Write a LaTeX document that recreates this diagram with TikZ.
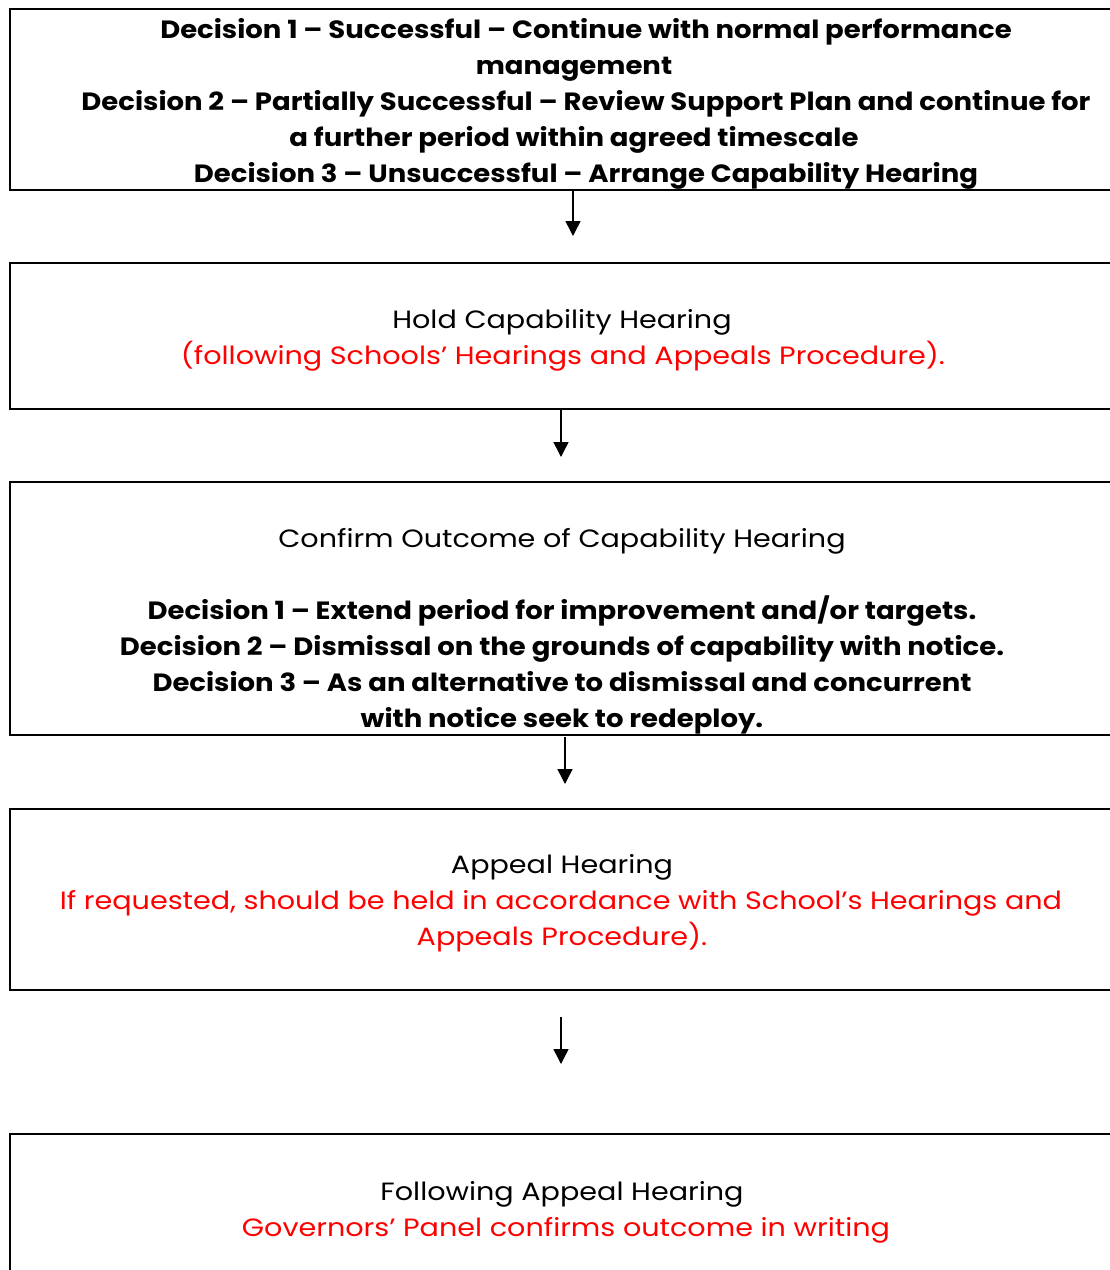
\documentclass[tikz,border=0pt]{standalone}
\usepackage{fontspec}
\setmainfont{Poppins}
\usetikzlibrary{arrows.meta}
\newfontfamily\regf{Poppins}[FakeStretch=1.145]
\newfontfamily\bldf{Poppins}[FakeStretch=1.10]
\begin{document}
\begin{tikzpicture}[x=1pt,y=-1pt,
  box/.style={draw, line width=2pt, rectangle, anchor=north west, inner sep=0pt, minimum width=1160pt},
  ln/.style={anchor=base, inner sep=0pt, font=\regf\fontsize{25}{30}\selectfont},
  bl/.style={anchor=base, inner sep=0pt, font=\bldf\fontsize{25}{30}\selectfont\bfseries},
  rd/.style={ln, text=red},
  arr/.style={-{Triangle[length=15pt,width=15pt]}, line width=1.5pt}]
\useasboundingbox (0,0) rectangle (1110,1270);
% boxes
\node[box, minimum height=181pt] (b1) at (9,8) {};
\node[box, minimum height=146pt] (b2) at (9,262) {};
\node[box, minimum height=253pt] (b3) at (9,481) {};
\node[box, minimum height=181pt] (b4) at (9,808) {};
\node[box, minimum height=170pt] (b5) at (9,1133) {};
% box 1 text
\node[bl] (t11) at (586,38) {Decision 1 – Successful – Continue with normal performance};
\node[bl] (t12) at (574,74) {management};
\node[bl] (t13) at (586,110) {Decision 2 – Partially Successful – Review Support Plan and continue for};
\node[bl] (t14) at (574,146) {a further period within agreed timescale};
\node[bl] (t15) at (586,182) {Decision 3 – Unsuccessful – Arrange Capability Hearing};
% box 2 text
\node[ln] (t21) at (562,328) {Hold Capability Hearing};
\node[rd] (t22) at (563,364) {(following Schools’ Hearings and Appeals Procedure).};
% box 3 text
\node[ln] (t31) at (562,547) {Confirm Outcome of Capability Hearing};
\node[bl] (t32) at (562,619) {Decision 1 – Extend period for improvement and/or targets.};
\node[bl] (t33) at (562,655) {Decision 2 – Dismissal on the grounds of capability with notice.};
\node[bl] (t34) at (562,691) {Decision 3 – As an alternative to dismissal and concurrent};
\node[bl] (t35) at (562,727) {with notice seek to redeploy.};
% box 4 text
\node[ln] (t41) at (562,873) {Appeal Hearing};
\node[rd] (t42) at (561,909) {If requested, should be held in accordance with School’s Hearings and};
\node[rd] (t43) at (562,945) {Appeals Procedure).};
% box 5 text
\node[ln] (t51) at (562,1200) {Following Appeal Hearing};
\node[rd] (t52) at (566,1236) {Governors’ Panel confirms outcome in writing};
% arrows
\coordinate (a1e) at (573,236);
\coordinate (a2e) at (561,457);
\coordinate (a3s) at (565,737);
\coordinate (a3e) at (565,784);
\coordinate (a4s) at (561,1017);
\coordinate (a4e) at (561,1064);
\draw[arr] (b1.south -| a1e) -- (a1e);
\draw[arr] (b2.south -| a2e) -- (a2e);
\draw[arr] (a3s) -- (a3e);
\draw[arr] (a4s) -- (a4e);
\end{tikzpicture}
\end{document}
